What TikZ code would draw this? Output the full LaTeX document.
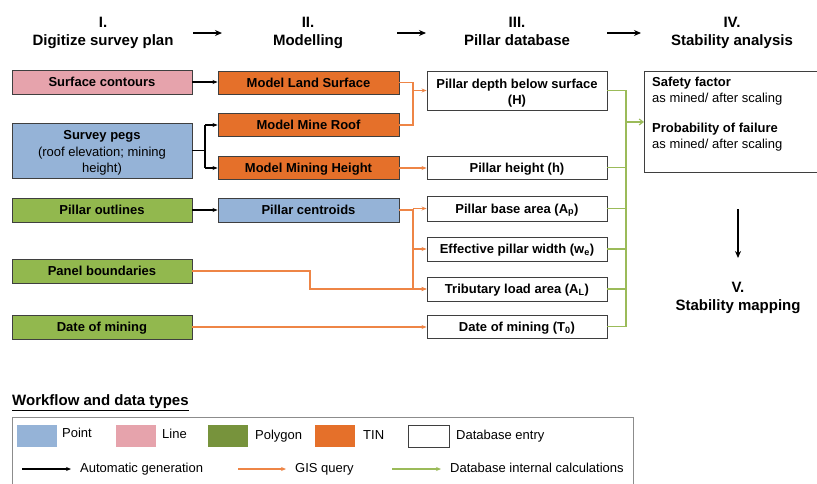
\documentclass[tikz,border=0pt]{standalone}
\usepackage{fontspec}
\setmainfont{Liberation Sans}
\usetikzlibrary{arrows.meta}
\definecolor{ptblue}{HTML}{95B3D7}
\definecolor{lnpink}{HTML}{E6A3AC}
\definecolor{pgreen}{HTML}{92B84E}
\definecolor{pgreendk}{HTML}{77933C}
\definecolor{tinor}{HTML}{E5702A}
\definecolor{orline}{HTML}{EE8546}
\definecolor{grline}{HTML}{9BBB59}
\definecolor{bord}{HTML}{3F3F3F}
\definecolor{legbord}{HTML}{8C8C8C}
\begin{document}
\begin{tikzpicture}[x=1pt,y=-1pt,
  one/.style={text height=10.8pt, text depth=1.5pt},
  bx/.style={draw=bord, line width=0.9pt, inner sep=1pt, align=center,
     font=\bfseries\fontsize{13}{15.5}\selectfont},
  btext/.style={inner sep=0pt, align=center, font=\bfseries\fontsize{13}{16.5}\selectfont},
  colA/.style={bx, minimum width=180pt, minimum height=24pt},
  colB/.style={bx, one, minimum width=181pt, minimum height=23pt},
  colC/.style={bx, fill=white, minimum width=180pt, minimum height=24pt},
  hdr/.style={inner sep=0pt, text height=12.5pt, text depth=1.8pt,
     font=\bfseries\fontsize{15}{18}\selectfont},
  harr/.style={line width=1.3pt, -{Stealth[length=7pt,width=6pt]}},
  blkline/.style={line width=1.1pt, black},
  blk/.style={blkline, -{Stealth[length=5pt,width=4pt]}},
  orl/.style={line width=1.1pt, orline},
  ora/.style={orl, -{Stealth[length=5pt,width=4pt]}},
  grl/.style={line width=1.1pt, grline},
  gra/.style={grl, -{Straight Barb[length=4pt,width=6pt]}},
  txt/.style={one, font=\fontsize{13}{15.5}\selectfont, inner sep=0pt},
  btxt/.style={one, font=\bfseries\fontsize{13}{15.5}\selectfont, inner sep=0pt},
  sw/.style={minimum width=40pt, minimum height=22pt, inner sep=0pt}
]
\path[use as bounding box, clip] (0,0) rectangle (817,483);
\fill[white] (0,0) rectangle (817,483);

% headers
\node[hdr] (hd1n) at (103,22) {I.};
\node[hdr] (hd1) at (103,40) {Digitize survey plan};
\node[hdr] (hd2n) at (308,22) {II.};
\node[hdr] (hd2) at (308,40) {Modelling};
\node[hdr] (hd3n) at (517,22) {III.};
\node[hdr] (hd3) at (517,40) {Pillar database};
\node[hdr] (hd4n) at (732,22) {IV.};
\node[hdr] (hd4) at (732,40) {Stability analysis};
\coordinate (a1s) at (193,33); \coordinate (a1e) at (222,33);
\coordinate (a2s) at (397,33); \coordinate (a2e) at (426,33);
\coordinate (a3s) at (607,33); \coordinate (a3e) at (641,33);
\draw[harr] (a1s) -- (a1e);
\draw[harr] (a2s) -- (a2e);
\draw[harr] (a3s) -- (a3e);

% column I
\node[colA, one, fill=lnpink] (sc) at (102,82) {Surface contours};
\node[colA, fill=ptblue, minimum height=55pt] (sp) at (102,150.5) {};
\node[btext] (spt) at (102,153)
  {Survey pegs\\{\mdseries (roof elevation; mining}\\{\mdseries height)}};
\node[colA, one, fill=pgreen] (po) at (102,210) {Pillar outlines};
\node[colA, one, fill=pgreen] (pb) at (102,271) {Panel boundaries};
\node[colA, one, fill=pgreen] (dm) at (102,327) {Date of mining};

% column II
\node[colB, fill=tinor] (mls) at (308.5,82.5) {Model Land Surface};
\node[colB, fill=tinor] (mmr) at (308.5,125) {Model Mine Roof};
\node[colB, fill=tinor] (mmh) at (308.5,168) {Model Mining Height};
\node[colB, fill=ptblue, minimum height=24pt] (pc) at (308.5,210) {Pillar centroids};

% column III
\node[colC, minimum height=39pt] (H) at (517,90.5) {};
\node[btext] (Ht) at (517,93) {Pillar depth below surface\\(H)};
\node[colC, one, minimum height=23pt] (h) at (517,167.5) {Pillar height (h)};
\node[colC, one, minimum height=25pt] (Ap) at (517,208.5) {Pillar base area (A\textsubscript{p})};
\node[colC, one] (we) at (517,249) {Effective pillar width (w\textsubscript{e})};
\node[colC, one] (AL) at (517,289) {Tributary load area (A\textsubscript{L})};
\node[colC, one, minimum height=23pt] (T0) at (517,326.5) {Date of mining (T\textsubscript{0})};

% column IV
\node[draw=bord, line width=0.9pt, minimum width=180pt, minimum height=101pt,
      anchor=north west, inner sep=0pt] (sa) at (644,71) {};
\node[btxt, anchor=west] (sf) at (652,82) {Safety factor};
\node[txt, anchor=west] (sf2) at (652,97.5) {as mined/ after scaling};
\node[btxt, anchor=west] (pf) at (652,128) {Probability of failure};
\node[txt, anchor=west] (pf2) at (652,144) {as mined/ after scaling};

% V
\coordinate (a5s) at (738,209); \coordinate (a5e) at (738,258);
\draw[harr] (a5s) -- (a5e);
\node[hdr] (smn) at (738,287) {V.};
\node[hdr] (sm) at (738,305) {Stability mapping};

% bus coordinates
\coordinate (bb) at (205,0);
\coordinate (ob) at (413,0);
\coordinate (pbk) at (310,0);
\coordinate (gb) at (626,0);

% black connectors
\draw[blk] (sc.east) -- (sc.east -| mls.west);
\draw[blkline] (sp.east) -- (sp.east -| bb);
\draw[blkline] (mmr.west -| bb) -- (mmh.west -| bb);
\draw[blk] (mmr.west -| bb) -- (mmr.west);
\draw[blk] (mmh.west -| bb) -- (mmh.west);
\draw[blk] (po.east) -- (po.east -| pc.west);

% orange connectors
\draw[orl] (mls.east) -- (mls.east -| ob) -- (mmr.east -| ob) -- (mmr.east);
\draw[ora] (H.west -| ob) -- (H.west);
\draw[ora] (mmh.east) -- (mmh.east -| h.west);
\draw[orl] (pc.east) -- (pc.east -| ob) -- (AL.west -| ob);
\draw[ora] (Ap.west -| ob) -- (Ap.west);
\draw[ora] (we.west -| ob) -- (we.west);
\draw[ora] (AL.west -| ob) -- (AL.west);
\draw[ora] (pb.east) -- (pb.east -| pbk) -- (AL.west -| pbk) -- (AL.west);
\draw[ora] (dm.east) -- (dm.east -| T0.west);

% green connectors
\draw[grl] (H.east) -- (H.east -| gb) -- (T0.east -| gb) -- (T0.east);
\foreach \n in {h,Ap,we,AL} { \draw[grl] (\n.east) -- (\n.east -| gb); }
\draw[gra] (sa.west -| gb) -- (sa.west);

% legend
\node[anchor=west, inner sep=0pt, font=\bfseries\fontsize{15}{18}\selectfont] (lt) at (12,403)
  {\underline{Workflow and data types}};
\draw[legbord, line width=1pt] (12,417) rectangle (633,500);
\node[sw, fill=ptblue] (l1) at (37,436) {};
\node[txt, anchor=west] (l1t) at (62,433) {Point};
\node[sw, fill=lnpink] (l2) at (135.5,436) {};
\node[txt, anchor=west] (l2t) at (162,434) {Line};
\node[sw, fill=pgreendk] (l3) at (228,436) {};
\node[txt, anchor=west] (l3t) at (255,435) {Polygon};
\node[sw, fill=tinor] (l4) at (335,436) {};
\node[txt, anchor=west] (l4t) at (363,435) {TIN};
\node[sw, draw=bord, line width=0.9pt, minimum width=41pt] (l5) at (428.5,436) {};
\node[txt, anchor=west] (l5t) at (456,435) {Database entry};

\coordinate (k1s) at (22,469); \coordinate (k1e) at (71,469);
\draw[blk] (k1s) -- (k1e);
\node[txt, anchor=west] (k1t) at (80,468) {Automatic generation};
\coordinate (k2s) at (238,469); \coordinate (k2e) at (286,469);
\draw[ora] (k2s) -- (k2e);
\node[txt, anchor=west] (k2t) at (295,468) {GIS query};
\coordinate (k3s) at (392,469); \coordinate (k3e) at (441,469);
\draw[grl, -{Stealth[length=5pt,width=4pt]}] (k3s) -- (k3e);
\node[txt, anchor=west] (k3t) at (450,468) {Database internal calculations};
\end{tikzpicture}
\end{document}
